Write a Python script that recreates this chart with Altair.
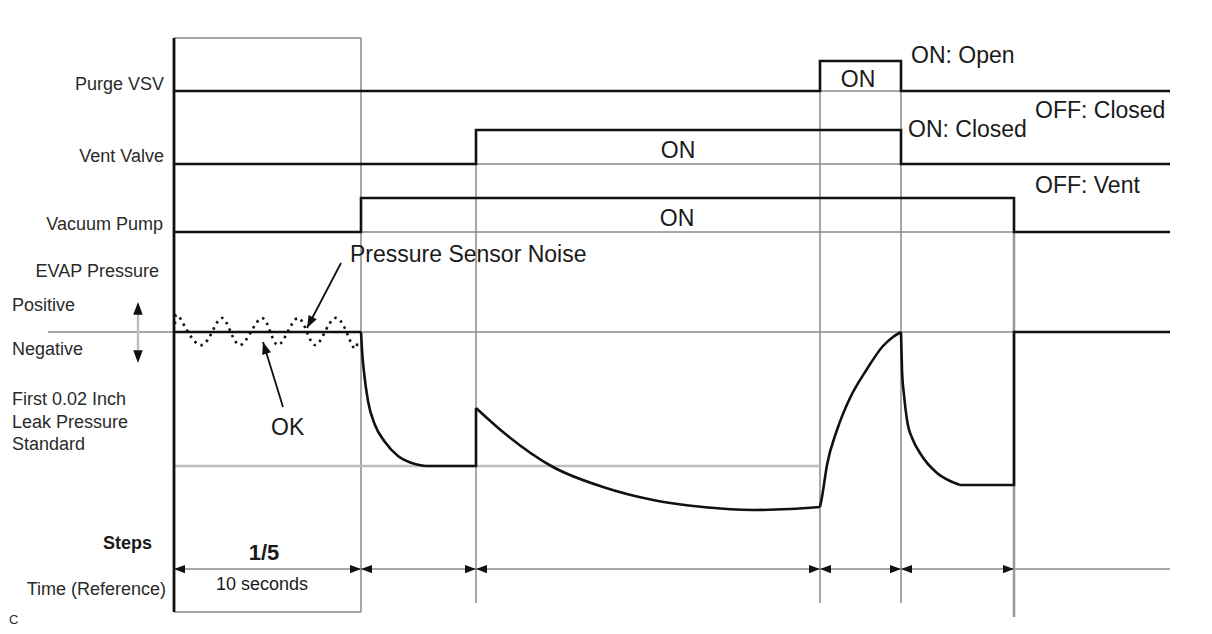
import altair as alt
import pandas as pd

# ---------------- data (diagram units: x left->right, y top->bottom) ----------------
# digital signals (step traces)
purge_x = [174, 820, 820, 901, 901, 1170]
purge_y = [91, 91, 61, 61, 91, 91]
vent_x = [174, 476, 476, 901, 901, 1170]
vent_y = [164, 164, 130, 130, 164, 164]
pump_x = [174, 361, 361, 1014, 1014, 1170]
pump_y = [232, 232, 198, 198, 232, 232]

# EVAP pressure trace: straight parts
p_lin1_x = [174, 361]
p_lin1_y = [332, 332]
p_lin2_x = [425, 476, 476]
p_lin2_y = [466, 466, 408]
p_lin3_x = [960, 1014, 1014, 1170]
p_lin3_y = [485, 485, 332, 332]
# EVAP pressure trace: curved parts
p_fall1_x = [361, 362, 364, 368, 375, 385, 398, 415, 425]
p_fall1_y = [332, 350, 372, 401, 425, 442, 456, 464, 466]
p_fall2_x = [476, 503, 553, 603, 653, 703, 753, 790, 820]
p_fall2_y = [408, 432, 467, 487, 500, 507, 510, 509, 507]
p_rise_x = [820, 822, 827, 837, 850, 867, 883, 893, 901]
p_rise_y = [507, 497, 465, 430, 398, 369, 346, 337, 332]
p_fall3_x = [901, 902, 904, 907, 913, 920, 937, 950, 960]
p_fall3_y = [332, 370, 395, 420, 440, 453, 473, 481, 485]

# pressure sensor noise (dotted)
noise_x = [175, 180, 202, 222, 240, 262, 278, 298, 315, 335, 352, 358]
noise_y = [324, 318, 345, 318, 345, 318, 345, 318, 345, 318, 345, 340]

# guide lines
gray_x1 = [174, 361, 174, 820, 476, 361, 476, 820, 901, 48, 174]
gray_x2 = [361, 361, 361, 901, 901, 1014, 476, 820, 901, 1170, 1170]
gray_y1 = [38, 38, 612, 91, 164, 232, 164, 91, 91, 332, 569]
gray_y2 = [38, 612, 612, 91, 164, 232, 603, 603, 603, 332, 569]
thick_x1, thick_x2, thick_y1, thick_y2 = [1014], [1014], [232], [617]
light_x1 = [174, 138]
light_x2 = [820, 138]
light_y1 = [466, 312]
light_y2 = [466, 350]
black_x1, black_x2, black_y1, black_y2 = [174], [174], [38], [612]
arrow_x1 = [341, 283]
arrow_x2 = [307, 263]
arrow_y1 = [263, 407]
arrow_y2 = [328, 342]

# arrowheads (tip position, direction in degrees)
head_x = [174, 361, 361, 476, 476, 820, 820, 901, 901, 1014, 138, 138, 307, 263]
head_y = [569, 569, 569, 569, 569, 569, 569, 569, 569, 569, 302, 363, 328, 342]
head_dir = [180, 0, 180, 0, 180, 0, 180, 0, 180, 0, 270, 90, 117.6, 252.9]
head_size = [121, 121, 121, 121, 121, 121, 121, 121, 121, 121, 160, 160, 150, 150]

# texts
right_labels = ["Purge VSV", "Vent Valve", "Vacuum Pump", "EVAP Pressure", "Time (Reference)"]
right_x = [164, 164, 163, 159, 166]
right_y = [90, 162, 230, 277, 595]

left_labels = ["Positive", "Negative", "First 0.02 Inch", "Leak Pressure", "Standard", "C"]
left_x = [12, 12, 12, 12, 12, 9]
left_y = [311, 355, 405, 428, 450, 624]
left_size = [18, 18, 18, 18, 18, 13]

big_labels = ["Pressure Sensor Noise", "OK", "ON: Open", "OFF: Closed", "ON: Closed", "OFF: Vent"]
big_x = [350, 271, 911, 1035, 908, 1035]
big_y = [262, 435, 63, 118, 137, 193]

on_labels = ["ON", "ON", "ON", "10 seconds"]
on_x = [858, 678, 677, 262]
on_y = [87, 158, 226, 590]
on_size = [23, 23, 23, 18]

bold_labels = ["Steps", "1/5"]
bold_x = [152, 264]
bold_y = [549, 560]
bold_size = [18, 22]

# ---------------- chart ----------------
W, H = 1196, 618
XS = alt.Scale(domain=[8, 8 + W], nice=False, zero=False)
YS = alt.Scale(domain=[8, 8 + H], nice=False, zero=False, reverse=True)
FONT = "Liberation Sans"


def X(f):
    return alt.X(f, type="quantitative", scale=XS, axis=None)


def Y(f):
    return alt.Y(f, type="quantitative", scale=YS, axis=None)


def path_df(pieces):
    rows = []
    for k, (xs, ys) in enumerate(pieces):
        for i, (a, b) in enumerate(zip(xs, ys)):
            rows.append({"x": a, "y": b, "seg": k, "o": i})
    return pd.DataFrame(rows)


def lines(pieces, interp, color="#111", width=2.6, dash=None):
    kw = dict(color=color, strokeWidth=width, interpolate=interp, strokeJoin="miter")
    if dash:
        kw["strokeDash"] = dash
    return alt.Chart(path_df(pieces)).mark_line(**kw).encode(
        x=X("x"), y=Y("y"), detail="seg:N", order="o:Q"
    )


def rules(x1, x2, y1, y2, color, width):
    df = pd.DataFrame({"x": x1, "x2": x2, "y": y1, "y2": y2})
    return alt.Chart(df).mark_rule(color=color, strokeWidth=width).encode(
        x=X("x"), x2="x2", y=Y("y"), y2="y2"
    )


def texts(labels, xs, ys, sizes, align, weight="normal", color="#222"):
    df = pd.DataFrame({"t": labels, "x": xs, "y": ys, "s": sizes})
    return alt.Chart(df).mark_text(
        align=align, baseline="alphabetic", font=FONT, fontWeight=weight, color=color
    ).encode(x=X("x"), y=Y("y"), text="t:N", size=alt.Size("s:Q", scale=None))


layers = [
    rules(gray_x1, gray_x2, gray_y1, gray_y2, "#8a8a8a", 1.5),
    rules(thick_x1, thick_x2, thick_y1, thick_y2, "#9a9a9a", 2.6),
    rules(light_x1, light_x2, light_y1, light_y2, "#bdbdbd", 2.4),
    rules(black_x1, black_x2, black_y1, black_y2, "#111", 2.8),
    rules(arrow_x1, arrow_x2, arrow_y1, arrow_y2, "#111", 1.8),
    lines([(purge_x, purge_y), (vent_x, vent_y), (pump_x, pump_y)], "linear"),
    lines([(p_lin1_x, p_lin1_y), (p_lin2_x, p_lin2_y), (p_lin3_x, p_lin3_y)], "linear"),
    lines([(p_fall1_x, p_fall1_y), (p_fall2_x, p_fall2_y), (p_rise_x, p_rise_y),
           (p_fall3_x, p_fall3_y)], "monotone"),
    lines([(noise_x, noise_y)], "natural", width=2.6, dash=[2.5, 4.5]),
    alt.Chart(pd.DataFrame({"x": head_x, "y": head_y, "a": head_dir, "s": head_size}))
    .mark_point(shape="M0,0L-2,-0.75L-2,0.75Z", filled=True, color="#111", opacity=1,
                strokeWidth=0)
    .encode(x=X("x"), y=Y("y"), angle=alt.Angle("a:Q", scale=None),
            size=alt.Size("s:Q", scale=None)),
    texts(right_labels, right_x, right_y, [18] * len(right_labels), "right", color="#2a2a2a"),
    texts(left_labels, left_x, left_y, left_size, "left", color="#2a2a2a"),
    texts(big_labels, big_x, big_y, [23] * len(big_labels), "left", color="#1a1a1a"),
    texts(on_labels, on_x, on_y, on_size, "center", color="#1a1a1a"),
    texts(bold_labels[:1], bold_x[:1], bold_y[:1], bold_size[:1], "right", "bold", "#1a1a1a"),
    texts(bold_labels[1:], bold_x[1:], bold_y[1:], bold_size[1:], "center", "bold", "#1a1a1a"),
]

chart = (
    alt.layer(*layers)
    .properties(width=W, height=H, autosize=alt.AutoSizeParams(type="none"), padding=0,
                background="white")
    .configure_view(stroke=None)
)

chart.save("out.html", embed_options={"renderer": "svg", "actions": False})
